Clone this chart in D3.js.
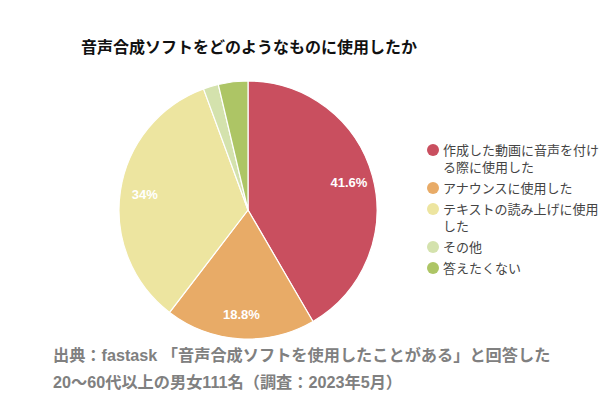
<!DOCTYPE html>
<html><head><meta charset="utf-8">
<script src="https://cdn.jsdelivr.net/npm/d3@7"></script>
<style>body{margin:0;background:#fff}svg{display:block}</style>
</head><body>
<svg id="c" width="600" height="400"></svg>
<script>
const categories = ["作成した動画に音声を付ける際に使用した","アナウンスに使用した","テキストの読み上げに使用した","その他","答えたくない"];
const values = [41.6, 18.8, 34, 1.9, 3.7];
const valueLabels = ["41.6%","18.8%","34%","",""];
const colors = ["#c94f5f","#e8ab67","#ede5a0","#d4e2ad","#adc565"];
const title = "音声合成ソフトをどのようなものに使用したか";
const footer = ["出典：fastask 「音声合成ソフトを使用したことがある」と回答した","20〜60代以上の男女111名（調査：2023年5月）"];

const svg = d3.select("#c");
const font = "'Liberation Sans','Noto Sans CJK JP',sans-serif";
svg.append("text").attr("x",81).attr("y",53).attr("font-family",font)
  .attr("font-size",16).attr("font-weight","bold").attr("fill","#111").text(title);

const cx=248, cy=210, r=129;
const pie = d3.pie().sort(null).value(d=>d);
const arcs = pie(values);
const arc = d3.arc().innerRadius(0).outerRadius(r);
const g = svg.append("g").attr("transform",`translate(${cx},${cy})`);
g.selectAll("path").data(arcs).join("path").attr("d",arc)
  .attr("fill",(d,i)=>colors[i]).attr("stroke","#fff").attr("stroke-width",1.2);
const labelArc = d3.arc().innerRadius(r*0.81).outerRadius(r*0.81);
g.selectAll("text.v").data(arcs).join("text").attr("class","v")
  .attr("transform",d=>`translate(${labelArc.centroid(d)})`)
  .attr("text-anchor","middle").attr("dy","0.36em")
  .attr("font-family",font).attr("font-size",13).attr("font-weight","bold")
  .attr("fill","#fff").text((d,i)=>valueLabels[i]);

// legend
const lg = svg.append("g");
let y = 150;
const maxW = 160;
categories.forEach((c,i)=>{
  lg.append("circle").attr("cx",433).attr("cy",y).attr("r",6).attr("fill",colors[i]);
  const t = lg.append("text").attr("font-family",font).attr("font-size",13).attr("fill","#444");
  let lines=[], cur="";
  const probe = t.append("tspan");
  for (const ch of c){
    probe.text(cur+ch);
    if (probe.node().getComputedTextLength()>maxW && cur){lines.push(cur);cur=ch;} else cur+=ch;
  }
  lines.push(cur); probe.remove();
  lines.forEach((l,k)=>{
    t.append("tspan").attr("x",443).attr("y",y+k*17).attr("dy","0.36em").text(l);
  });
  y += (lines.length-1)*17 + 21;
});

footer.forEach((f,i)=>{
  svg.append("text").attr("x",53).attr("y",361+i*27).attr("font-family",font)
    .attr("font-size",16.2).attr("font-weight","bold").attr("fill","#808080").text(f);
});
</script>
</body></html>
